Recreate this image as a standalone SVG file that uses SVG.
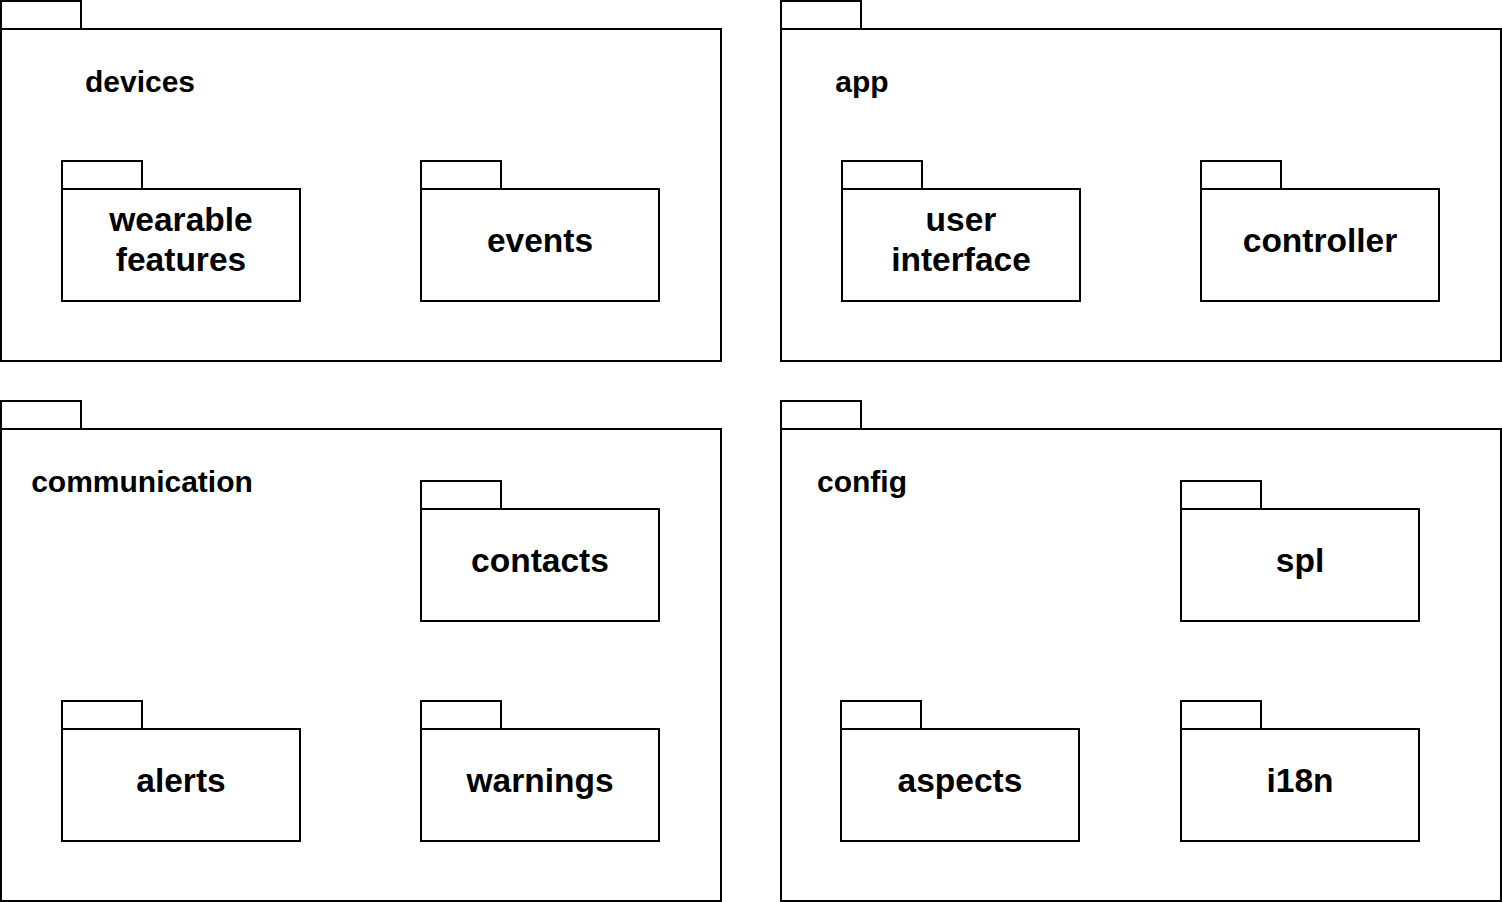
<svg xmlns="http://www.w3.org/2000/svg" width="1502" height="902" viewBox="0 0 1502 902">
<style>
.pk{fill:#fff;stroke:#000;stroke-width:2}
.ol{font-family:"Liberation Sans",Arial,sans-serif;font-weight:bold;font-size:30px;text-anchor:middle;fill:#000}
.il{font-family:"Liberation Sans",Arial,sans-serif;font-weight:bold;font-size:33.5px;text-anchor:middle;fill:#000}
</style>
<rect width="1502" height="902" fill="#fff"/>
<g id="devices">
<rect class="pk" x="1" y="1" width="80" height="28"/>
<rect class="pk" x="1" y="29" width="720" height="332"/>
<text class="ol" x="140" y="92">devices</text>
</g>
<g id="app">
<rect class="pk" x="781" y="1" width="80" height="28"/>
<rect class="pk" x="781" y="29" width="720" height="332"/>
<text class="ol" x="862" y="92">app</text>
</g>
<g id="communication">
<rect class="pk" x="1" y="401" width="80" height="28"/>
<rect class="pk" x="1" y="429" width="720" height="472"/>
<text class="ol" x="142" y="492">communication</text>
</g>
<g id="config">
<rect class="pk" x="781" y="401" width="80" height="28"/>
<rect class="pk" x="781" y="429" width="720" height="472"/>
<text class="ol" x="862" y="492">config</text>
</g>
<g id="wearable-features">
<rect class="pk" x="62" y="161" width="80" height="28"/>
<rect class="pk" x="62" y="189" width="238" height="112"/>
<text class="il" x="181" y="231">wearable</text>
<text class="il" x="181" y="271">features</text>
</g>
<g id="events">
<rect class="pk" x="421" y="161" width="80" height="28"/>
<rect class="pk" x="421" y="189" width="238" height="112"/>
<text class="il" x="540" y="252">events</text>
</g>
<g id="user-interface">
<rect class="pk" x="842" y="161" width="80" height="28"/>
<rect class="pk" x="842" y="189" width="238" height="112"/>
<text class="il" x="961" y="231">user</text>
<text class="il" x="961" y="271">interface</text>
</g>
<g id="controller">
<rect class="pk" x="1201" y="161" width="80" height="28"/>
<rect class="pk" x="1201" y="189" width="238" height="112"/>
<text class="il" x="1320" y="252">controller</text>
</g>
<g id="contacts">
<rect class="pk" x="421" y="481" width="80" height="28"/>
<rect class="pk" x="421" y="509" width="238" height="112"/>
<text class="il" x="540" y="572">contacts</text>
</g>
<g id="alerts">
<rect class="pk" x="62" y="701" width="80" height="28"/>
<rect class="pk" x="62" y="729" width="238" height="112"/>
<text class="il" x="181" y="792">alerts</text>
</g>
<g id="warnings">
<rect class="pk" x="421" y="701" width="80" height="28"/>
<rect class="pk" x="421" y="729" width="238" height="112"/>
<text class="il" x="540" y="792">warnings</text>
</g>
<g id="spl">
<rect class="pk" x="1181" y="481" width="80" height="28"/>
<rect class="pk" x="1181" y="509" width="238" height="112"/>
<text class="il" x="1300" y="572">spl</text>
</g>
<g id="aspects">
<rect class="pk" x="841" y="701" width="80" height="28"/>
<rect class="pk" x="841" y="729" width="238" height="112"/>
<text class="il" x="960" y="792">aspects</text>
</g>
<g id="i18n">
<rect class="pk" x="1181" y="701" width="80" height="28"/>
<rect class="pk" x="1181" y="729" width="238" height="112"/>
<text class="il" x="1300" y="792">i18n</text>
</g>
<g id="connectors"></g>
</svg>
